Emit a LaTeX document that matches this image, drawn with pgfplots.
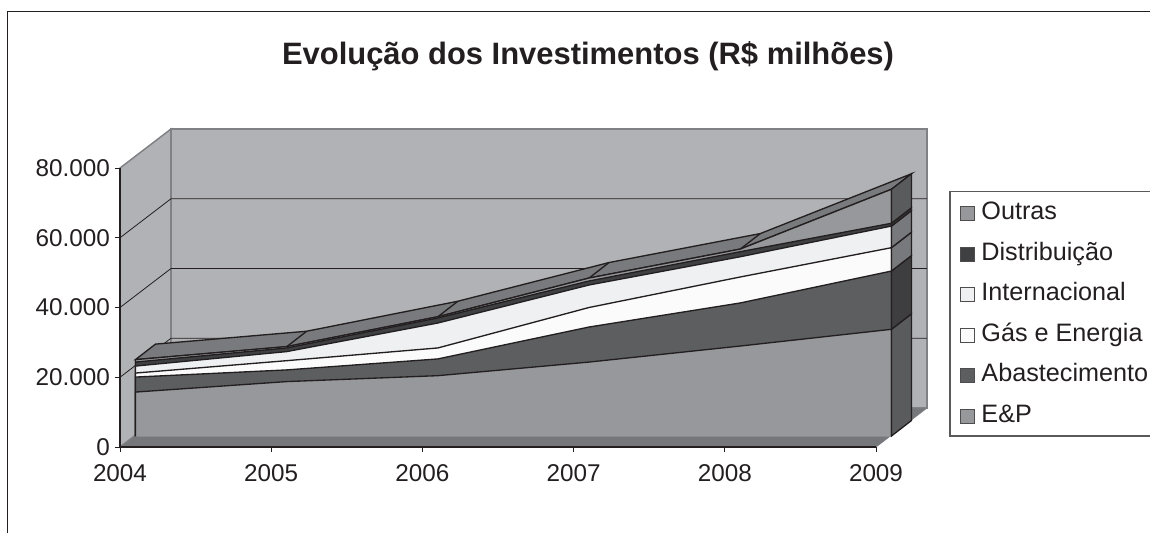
\documentclass[border=0pt]{standalone}
\usepackage{pgfplots}
\usepackage{pgfplotstable}
\usepackage{fontspec}
\setmainfont{Liberation Sans}
\pgfplotsset{compat=1.18}
\definecolor{ink}{HTML}{231F20}
\definecolor{wall}{HTML}{B1B2B5}
\definecolor{wedge}{HTML}{808184}
\definecolor{floorc}{HTML}{76777A}
\definecolor{topc}{HTML}{797A7D}
\definecolor{cout}{HTML}{97989B}
\definecolor{cdis}{HTML}{3F4042}
\definecolor{cint}{HTML}{EFF0F2}
\definecolor{cgas}{HTML}{FBFBFB}
\definecolor{cabs}{HTML}{5D5E60}
\definecolor{cep}{HTML}{97989B}
\definecolor{sidea}{HTML}{5A5B5D}
\definecolor{sideb}{HTML}{3E3E40}
\definecolor{sidec}{HTML}{78797C}
% depth offsets of the oblique view, in data units
\def\fx{0.1025}\def\fy{3154}   % front of the areas
\def\bx{0.2348}\def\by{7599}   % back of the areas
\def\wx{0.3373}\def\wy{11183}  % back wall
\pgfplotstableread{
year ep ab gas intl dist out
2004 0 0 0 0 0 0
2004 12600 4300 1150 2000 1150 700
2005 15600 3350 2650 2600 1050 400
2006 17300 4800 3150 7150 1450 350
2007 21200 10050 5600 6450 1150 850
2008 25800 12350 7450 5800 1450 750
2009 30600 16700 6700 6200 800 9750
2009 0 0 0 0 0 0
}\data
\newcommand\sideface[3]{\addplot[forget plot,fill=#3,draw=ink,line width=1pt] coordinates {(2009+\fx,#1+\fy) (2009+\bx,#1+\by) (2009+\bx,#2+\by) (2009+\fx,#2+\fy)} --cycle;}
\newcommand\topedge[2]{\addplot[forget plot,draw=ink,line width=1pt] coordinates {({#1+\fx},{#2+\fy}) ({#1+\bx},{#2+\by})};}
\newcommand\gridl[1]{\addplot[forget plot,draw=ink,line width=0.6pt] coordinates {(2004,#1) (2004+\wx,#1+\wy) (2009+\wx,#1+\wy)};}
\newcommand\lent[1]{\addlegendentry{\hspace{4.5pt}\rule[-0.3em]{0pt}{1.1em}#1}}
\begin{document}
\begin{tikzpicture}[x=0.75pt,y=0.75pt]
\path[use as bounding box] (0,0) rectangle (1150,533);
\draw[ink,line width=0.75pt] (7.5,0) -- (7.5,521.5) -- (1150,521.5);
\begin{axis}[
  at={(90pt,64.5pt)},anchor=south west,scale only axis,width=567pt,height=209.25pt,
  xmin=2004,xmax=2009,ymin=0,ymax=80000,clip=false,
  axis lines=left,axis line style={-,draw=ink,line width=0.9pt},
  axis on top,
  xtick={2004,2005,2006,2007,2008,2009},
  ytick={0,20000,40000,60000,80000},
  tick style={draw=ink,line width=0.7pt},
  tick align=outside,major tick length=4pt,
  scaled y ticks=false,
  xticklabel style={/pgf/number format/1000 sep={},/pgf/number format/assume math mode=true,yshift=-6pt},
  yticklabel style={/pgf/number format/1000 sep={.},/pgf/number format/assume math mode=true},
  tick label style={font=\fontsize{18.2}{20}\selectfont,text=ink},
  legend style={at={(1.1111,0.917)},anchor=north west,draw=none,fill=none,
    font=\fontsize{18.9}{20}\selectfont,text=ink,row sep=13.75pt,inner sep=0pt,inner ysep=6pt,
    nodes={inner sep=0pt}},
  legend cell align=left,
  legend image code/.code={\draw[#1,draw=ink!80,line width=0.9pt] (0pt,-7.6pt) rectangle (10.5pt,2.9pt);},
]
% walls and floor
\addplot[forget plot,fill=wall,draw=wedge,line width=1.1pt] coordinates {(2004,0) (2004+\wx,\wy) (2004+\wx,80000+\wy) (2004,80000)} --cycle;
\addplot[forget plot,fill=wall,draw=wedge,line width=1.1pt] coordinates {(2004+\wx,\wy) (2009+\wx,\wy) (2009+\wx,80000+\wy) (2004+\wx,80000+\wy)} --cycle;
\gridl{20000}\gridl{40000}\gridl{60000}
\addplot[forget plot,fill=floorc,draw=wedge,line width=0.6pt] coordinates {(2004,0) (2009,0) (2009+\wx,\wy) (2004+\wx,\wy)} --cycle;
% top face of the stack
\addplot[forget plot,fill=topc,draw=ink,line width=1pt] coordinates {
 (2004+\fx,21900+\fy) (2005+\fx,25600+\fy) (2006+\fx,34200+\fy) (2007+\fx,45300+\fy) (2008+\fx,53600+\fy) (2009+\fx,70750+\fy)
 (2009+\bx,70750+\by) (2008+\bx,53600+\by) (2007+\bx,45300+\by) (2006+\bx,34200+\by) (2005+\bx,25600+\by) (2004+\bx,21900+\by)} --cycle;
\topedge{2005}{25600}\topedge{2006}{34200}\topedge{2007}{45300}\topedge{2008}{53600}
% front faces, tallest stack first
\addplot[fill=cout,draw=ink,line width=1pt] table[x expr=\thisrow{year}+\fx,y expr=\thisrow{ep}+\thisrow{ab}+\thisrow{gas}+\thisrow{intl}+\thisrow{dist}+\thisrow{out}+\fy] {\data};
\lent{Outras}
\addplot[fill=cdis,draw=ink,line width=1pt] table[x expr=\thisrow{year}+\fx,y expr=\thisrow{ep}+\thisrow{ab}+\thisrow{gas}+\thisrow{intl}+\thisrow{dist}+\fy] {\data};
\lent{Distribuição}
\addplot[fill=cint,draw=ink,line width=1pt] table[x expr=\thisrow{year}+\fx,y expr=\thisrow{ep}+\thisrow{ab}+\thisrow{gas}+\thisrow{intl}+\fy] {\data};
\lent{Internacional}
\addplot[fill=cgas,draw=ink,line width=1pt] table[x expr=\thisrow{year}+\fx,y expr=\thisrow{ep}+\thisrow{ab}+\thisrow{gas}+\fy] {\data};
\lent{Gás e Energia}
\addplot[fill=cabs,draw=ink,line width=1pt] table[x expr=\thisrow{year}+\fx,y expr=\thisrow{ep}+\thisrow{ab}+\fy] {\data};
\lent{Abastecimento}
\addplot[fill=cep,draw=ink,line width=1pt] table[x expr=\thisrow{year}+\fx,y expr=\thisrow{ep}+\fy] {\data};
\lent{E\&P}
% right-hand side faces
\sideface{0}{30600}{sidea}
\sideface{30600}{47300}{sideb}
\sideface{47300}{54000}{sidec}
\sideface{54000}{60200}{sidec}
\sideface{60200}{61000}{sideb}
\sideface{61000}{70750}{sidea}
\end{axis}
\draw[wedge!70!black,line width=0.8pt] (1150,341.5) -- (950,341.5) -- (950,97) -- (1150,97);
\node[font=\bfseries\fontsize{23.2}{26}\selectfont,text=ink] at (588,477) {Evolução dos Investimentos (R\$ milhões)};
\end{tikzpicture}
\end{document}
